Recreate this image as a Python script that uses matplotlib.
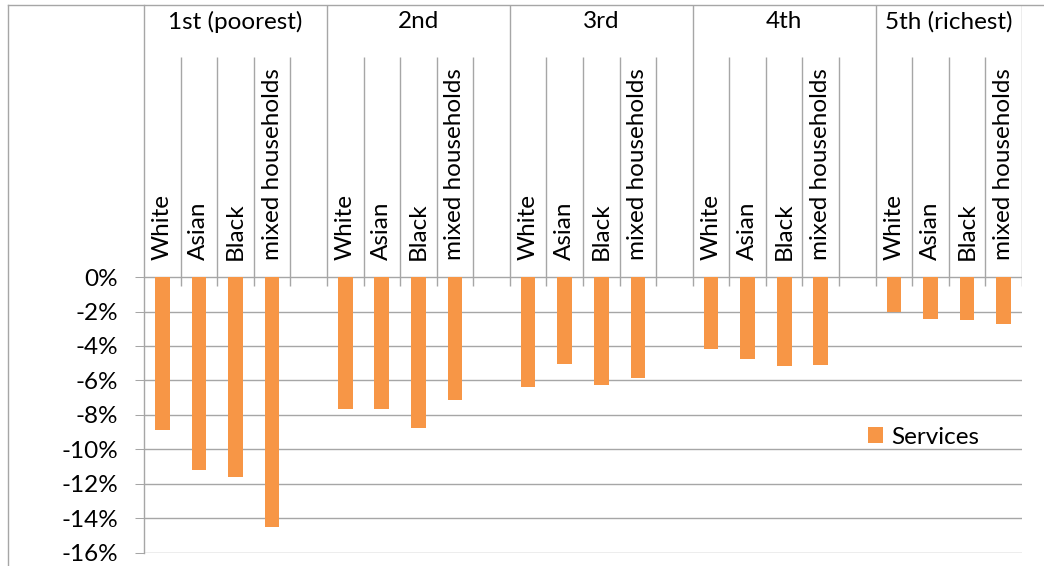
import numpy as np
from matplotlib import pyplot as plt
from matplotlib.lines import Line2D

# data (percent change)
quintiles = ['1st (poorest)', '2nd', '3rd', '4th', '5th (richest)']
groups = ['White', 'Asian', 'Black', 'mixed households']
services = [
    [-8.9, -11.2, -11.6, -14.5],
    [-7.65, -7.65, -8.75, -7.15],
    [-6.4, -5.05, -6.25, -5.85],
    [-4.2, -4.75, -5.15, -5.1],
    [-2.05, -2.45, -2.5, -2.7],
]
yticks = [0, -2, -4, -6, -8, -10, -12, -14, -16]

BAR = '#F79646'
GRID = '#a6a6a6'
plt.rcParams['font.family'] = ['Lato', 'DejaVu Sans']
FS = 17.5

W, H = 1044, 566
fig = plt.figure(figsize=(W / 100, H / 100), dpi=100)

# plot area in pixels
left, right, top, bottom = 144, 1022, 5, 553.3
zero_px = 277.3
ax = fig.add_axes([left / W, (H - bottom) / H,
                   (right - left) / W, (bottom - top) / H])

px_per_unit = (bottom - zero_px) / 16.0
ytop = (zero_px - top) / px_per_unit

# each quintile takes 5 slots, the last slot is empty (except last quintile)
n_slots = 5 * len(quintiles) - 1
xs, vals = [], []
for g, row in enumerate(services):
    for s, v in enumerate(row):
        xs.append(g * 5 + s)
        vals.append(v)

ax.bar(xs, vals, width=0.4, color=BAR, label='Services', zorder=3)

ax.set_xlim(-0.5, n_slots - 0.5)
ax.set_ylim(-16.03, ytop)
ax.set_yticks(yticks)
ax.set_yticklabels(['{}%'.format(t) for t in yticks], fontsize=FS)
ax.tick_params(axis='y', length=6.5, width=0.75, color=GRID, pad=12)
ax.set_xticks([])
ax.grid(axis='y', color=GRID, linewidth=1.0, zorder=0)
ax.set_axisbelow(True)

for side in ['top', 'right', 'bottom']:
    ax.spines[side].set_visible(False)
ax.spines['left'].set_color(GRID)
ax.spines['left'].set_linewidth(1.0)

# category table above the zero line
tick_lo = -8.7 / px_per_unit
inner_top = (zero_px - 57) / px_per_unit
for k in range(1, n_slots + 1):
    xb = k - 0.5
    if k % 5 == 0 or k == n_slots:
        ax.vlines(xb, tick_lo, ytop, color=GRID, linewidth=1.0, zorder=2)
    else:
        ax.vlines(xb, tick_lo, inner_top, color=GRID, linewidth=1.0, zorder=2)

label_y = (zero_px - 260) / px_per_unit
for x, (g, s) in zip(xs, [(g, s) for g in range(5) for s in range(4)]):
    ax.text(x, label_y, groups[s], rotation=90, ha='center', va='bottom',
            fontsize=FS, color='black')

head_y = (zero_px - 22) / px_per_unit
for g, q in enumerate(quintiles):
    x0 = g * 5 - 0.5
    x1 = min(g * 5 + 4.5, n_slots - 0.5)
    ax.text((x0 + x1) / 2, head_y, q, ha='center', va='center',
            fontsize=FS, color='black')

ax.legend(loc='center', bbox_to_anchor=(0.888, 0.212), frameon=False,
          fontsize=FS, handlelength=0.6, handleheight=0.6,
          handletextpad=0.35)

# chart area border (top and left, rest is cropped)
fig.add_artist(Line2D([8 / W, 1], [1 - 5 / H, 1 - 5 / H],
                      transform=fig.transFigure, color=GRID, linewidth=1.0))
fig.add_artist(Line2D([8 / W, 8 / W], [0, 1 - 5 / H],
                      transform=fig.transFigure, color=GRID, linewidth=1.0))

fig.savefig('out.png', dpi=100)
